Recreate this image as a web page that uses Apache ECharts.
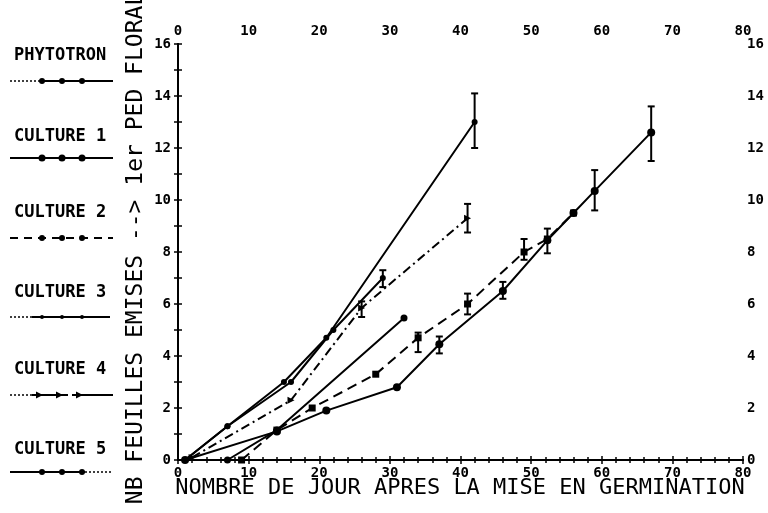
<!DOCTYPE html>
<html>
<head>
<meta charset="utf-8">
<script src="https://cdn.jsdelivr.net/npm/echarts@6/dist/echarts.min.js"></script>
<style>
  html, body { margin: 0; padding: 0; background: #fff; }
  #chart { width: 768px; height: 513px; }
</style>
</head>
<body>
<div id="chart"></div>
<script>
// Leaf count after germination: [day, leaves]
const phytotron = [[1, 0], [7, 1.3], [15, 3.0], [21, 4.7], [42, 13.0]];
const phytotronErr = [[42, 12.0, 14.1]];

const culture1 = [[1, 0], [14, 1.1], [21, 1.9], [31, 2.8], [37, 4.45], [46, 6.5], [52.3, 8.45], [56, 9.5], [59, 10.35], [67, 12.6]];
const culture1Err = [[37, 4.1, 4.75], [46, 6.2, 6.85], [52.3, 7.95, 8.9], [59, 9.6, 11.15], [67, 11.5, 13.6]];

const culture2 = [[9, 0], [14, 1.15], [19, 2.0], [28, 3.3], [34, 4.7], [41, 6.0], [49, 8.0], [52.3, 8.5], [56, 9.5]];
const culture2Err = [[34, 4.15, 4.9], [41, 5.6, 6.4], [49, 7.7, 8.5]];

const culture3 = [[1, 0], [7, 1.3], [16, 3.0], [22, 5.0], [29, 7.0]];
const culture3Err = [[29, 6.65, 7.3]];

const culture4 = [[2, 0.1], [16, 2.3], [26, 5.85], [41, 9.3]];
const culture4Err = [[26, 5.5, 6.1], [41, 8.75, 9.85]];

const culture5 = [[7, 0], [14, 1.15], [32, 5.46]];

const legendNames = ['PHYTOTRON', 'CULTURE 1', 'CULTURE 2', 'CULTURE 3', 'CULTURE 4', 'CULTURE 5'];
const xTitle = 'NOMBRE DE JOUR APRES LA MISE EN GERMINATION';
const yTitle = 'NB FEUILLES EMISES --> 1er PED FLORAL';

const INK = '#000';
const tickFont = { fontFamily: 'DejaVu Sans Mono', fontWeight: 'bold', fontSize: 14, color: INK };

// Axis pair helper: one axis draws line + outward ticks + labels, its twin draws inward ticks,
// so each tick crosses the frame.
function xAxisPair(position) {
  const base = { type: 'value', min: 0, max: 80, interval: 10, position: position, splitLine: { show: false } };
  return [
    Object.assign({}, base, {
      axisLine: { show: true, lineStyle: { color: INK, width: 2 } },
      axisTick: { show: true, inside: false, length: 4, lineStyle: { color: INK, width: 1.5 } },
      minorTick: { show: true, splitNumber: 5, length: 3, lineStyle: { color: INK, width: 1.5 } },
      axisLabel: Object.assign({ margin: 6 }, tickFont)
    }),
    Object.assign({}, base, {
      axisLine: { show: false },
      axisTick: { show: true, inside: true, length: 4, lineStyle: { color: INK, width: 1.5 } },
      minorTick: { show: true, splitNumber: 5, length: 3, lineStyle: { color: INK, width: 1.5 } },
      axisLabel: { show: false }
    })
  ];
}
function yAxisPair(position) {
  const base = { type: 'value', min: 0, max: 16, interval: 2, position: position, splitLine: { show: false } };
  return [
    Object.assign({}, base, {
      axisLine: { show: true, lineStyle: { color: INK, width: 2 } },
      axisTick: { show: true, inside: false, length: 4, lineStyle: { color: INK, width: 1.5 } },
      minorTick: { show: true, splitNumber: 2, length: 4, lineStyle: { color: INK, width: 1.5 } },
      axisLabel: Object.assign({ margin: position === 'left' ? 7 : 4 }, tickFont)
    }),
    Object.assign({}, base, {
      axisLine: { show: false },
      axisTick: { show: true, inside: true, length: 4, lineStyle: { color: INK, width: 1.5 } },
      minorTick: { show: true, splitNumber: 2, length: 4, lineStyle: { color: INK, width: 1.5 } },
      axisLabel: { show: false }
    })
  ];
}

function errRender(params, api) {
  const x = api.value(0);
  const lo = api.coord([x, api.value(1)]);
  const hi = api.coord([x, api.value(2)]);
  const w = 3.5;
  const st = { stroke: INK, lineWidth: 2 };
  return {
    type: 'group',
    children: [
      { type: 'line', shape: { x1: lo[0], y1: lo[1], x2: hi[0], y2: hi[1] }, style: st },
      { type: 'line', shape: { x1: lo[0] - w, y1: lo[1], x2: lo[0] + w, y2: lo[1] }, style: st },
      { type: 'line', shape: { x1: hi[0] - w, y1: hi[1], x2: hi[0] + w, y2: hi[1] }, style: st }
    ]
  };
}
function errSeries(data) {
  return { type: 'custom', renderItem: errRender, data: data, encode: { x: 0, y: [1, 2] }, z: 3, silent: true };
}
function lineSeries(name, data, opts) {
  return Object.assign({
    name: name, type: 'line', data: data,
    symbol: 'circle', symbolSize: 6,
    showAllSymbol: true,
    lineStyle: { color: INK, width: 2 },
    itemStyle: { color: INK },
    z: 4, silent: true
  }, opts);
}

// Left-hand key: label above a short sample of each line style
function keyEntry(i, textY, lineY) {
  const els = [];
  els.push({
    type: 'text', left: 14, top: textY,
    style: { text: legendNames[i], fontFamily: 'DejaVu Sans Mono', fontWeight: 'bold', fontSize: 17, fill: INK }
  });
  const seg = (x1, x2, dash, w) => ({
    type: 'line', shape: { x1: x1, y1: lineY, x2: x2, y2: lineY },
    style: { stroke: INK, lineWidth: w || 2, lineDash: dash || null }
  });
  const dot = (x, r) => ({ type: 'circle', shape: { cx: x, cy: lineY, r: r }, style: { fill: INK } });
  const arrow = (x) => ({ type: 'polygon', shape: { points: [[x - 4, lineY - 3.5], [x + 3, lineY], [x - 4, lineY + 3.5]] }, style: { fill: INK } });
  const marks = [42, 62, 82];
  if (i === 0) { els.push(seg(10, 40, [2, 2], 1.5), seg(40, 113)); marks.forEach(x => els.push(dot(x, 3))); }
  if (i === 1) { els.push(seg(10, 113)); marks.forEach(x => els.push(dot(x, 3.5))); }
  if (i === 2) { els.push(seg(10, 113, [8, 6])); marks.forEach(x => els.push(dot(x, 3))); }
  if (i === 3) { els.push(seg(10, 32, [2, 2], 1.5), seg(32, 110)); marks.forEach(x => els.push(dot(x, 2))); }
  if (i === 4) { els.push(seg(10, 32, [2, 2], 1.5), seg(32, 68), seg(72, 113)); [40, 60, 80].forEach(x => els.push(arrow(x))); }
  if (i === 5) { els.push(seg(10, 85), seg(85, 113, [2, 2], 1.5)); marks.forEach(x => els.push(dot(x, 3))); }
  return els;
}

const keyLayout = [[47, 81], [128, 158], [204, 238], [284, 317], [361, 395], [441, 472]];
let graphics = [];
keyLayout.forEach((p, i) => { graphics = graphics.concat(keyEntry(i, p[0], p[1])); });
graphics.push({
  type: 'text', x: 460, y: 488,
  style: { text: xTitle, fontFamily: 'DejaVu Sans Mono', fontSize: 22, fill: INK, align: 'center', verticalAlign: 'middle' }
});
graphics.push({
  type: 'text', x: 136, y: 248, rotation: Math.PI / 2,
  style: { text: yTitle, fontFamily: 'DejaVu Sans Mono', fontSize: 23, fill: INK, align: 'center', verticalAlign: 'middle' }
});

const chart = echarts.init(document.getElementById('chart'), null, { renderer: 'canvas' });
chart.setOption({
  animation: false,
  backgroundColor: '#fff',
  grid: { left: 178, right: 25, top: 44, bottom: 53 },
  xAxis: xAxisPair('bottom').concat(xAxisPair('top')),
  yAxis: yAxisPair('left').concat(yAxisPair('right')),
  graphic: graphics,
  series: [
    lineSeries('PHYTOTRON', phytotron, { symbolSize: 6 }),
    errSeries(phytotronErr),
    lineSeries('CULTURE 1', culture1, { symbolSize: 8 }),
    errSeries(culture1Err),
    lineSeries('CULTURE 2', culture2, { symbol: 'rect', symbolSize: 7, lineStyle: { color: INK, width: 2, type: [10, 6] } }),
    errSeries(culture2Err),
    lineSeries('CULTURE 3', culture3, { symbolSize: 6 }),
    errSeries(culture3Err),
    lineSeries('CULTURE 4', culture4, { symbol: 'triangle', symbolRotate: -90, symbolSize: 7, lineStyle: { color: INK, width: 2, type: [9, 4, 2, 4] } }),
    errSeries(culture4Err),
    lineSeries('CULTURE 5', culture5, { symbolSize: 7 })
  ]
});
</script>
</body>
</html>
